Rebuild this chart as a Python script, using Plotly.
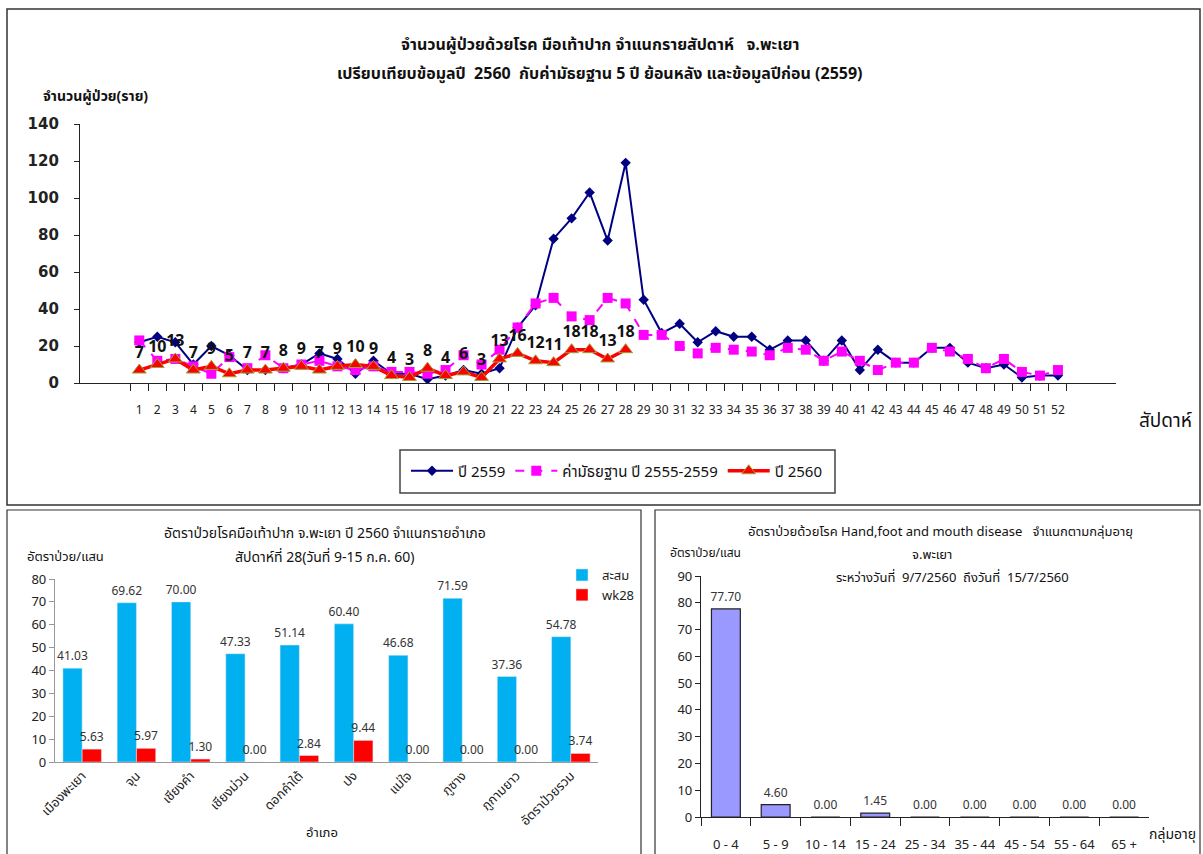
import plotly.graph_objects as go

# ---------------- data ----------------
weeks = [str(i) for i in range(1, 53)]
y2559 = [22, 25, 22, 10, 20, 15, 7, 7, 8, 10, 16, 13, 5, 12, 5, 5, 2, 4, 7, 5, 8, 30,
         42, 78, 89, 103, 77, 119, 45, 27, 32, 22, 28, 25, 25, 18, 23, 23, 12, 23, 7, 18,
         11, 11, 19, 19, 11, 8, 10, 3, 4, 4]
median_5y = [23, 12, 13, 9, 5, 14, 8, 15, 8, 10, 12, 9, 7, 9, 6, 6, 5, 7, 15, 10, 18, 30,
             43, 46, 36, 34, 46, 43, 26, 26, 20, 16, 19, 18, 17, 15, 19, 18, 12, 17, 12, 7,
             11, 11, 19, 17, 13, 8, 13, 6, 4, 7]
y2560 = [7, 10, 13, 7, 9, 5, 7, 7, 8, 9, 7, 9, 10, 9, 4, 3, 8, 4, 6, 3, 13, 16, 12, 11,
         18, 18, 13, 18]

districts = ["เมืองพะเยา", "จุน", "เชียงคำ", "เชียงม่วน", "ดอกคำใต้", "ปง", "แม่ใจ",
             "ภูซาง", "ภูกามยาว", "อัตราป่วยรวม"]
cumulative = [41.03, 69.62, 70.00, 47.33, 51.14, 60.40, 46.68, 71.59, 37.36, 54.78]
wk28 = [5.63, 5.97, 1.30, 0.00, 2.84, 9.44, 0.00, 0.00, 0.00, 3.74]

age_groups = ["0 - 4", "5 - 9", "10 - 14", "15 - 24", "25 - 34", "35 - 44", "45 - 54",
              "55 - 64", "65 +"]
age_rates = [77.70, 4.60, 0.00, 1.45, 0.00, 0.00, 0.00, 0.00, 0.00]

# ---------------- layout helpers ----------------
W, H = 1203, 854
FONT = "Tahoma, 'Noto Sans Thai', 'Noto Sans', 'DejaVu Sans', sans-serif"


def px(x):
    return x / W


def py(y):
    return 1 - y / H


fig = go.Figure()

# ---- top line chart ----
fig.add_trace(go.Scatter(
    x=weeks, y=y2559, name="ปี 2559", mode="lines+markers",
    line=dict(color="#000080", width=2),
    marker=dict(symbol="diamond", size=8, color="#000080"),
    xaxis="x", yaxis="y", legend="legend"))
fig.add_trace(go.Scatter(
    x=weeks, y=median_5y, name="ค่ามัธยฐาน ปี 2555-2559", mode="lines+markers",
    line=dict(color="#FF00FF", width=2, dash="dash"),
    marker=dict(symbol="square", size=10, color="#FF00FF"),
    xaxis="x", yaxis="y", legend="legend"))
fig.add_trace(go.Scatter(
    x=weeks[:len(y2560)], y=y2560, name="ปี 2560", mode="lines+markers+text",
    text=[str(v) for v in y2560], textposition="top center",
    textfont=dict(family=FONT, size=16, color="#111", weight="bold"),
    line=dict(color="#FF0000", width=3.5),
    marker=dict(symbol="triangle-up", size=12, color="#FF0000",
                line=dict(color="#9BA33A", width=1)),
    cliponaxis=False,
    xaxis="x", yaxis="y", legend="legend"))

# ---- bottom-left bars ----
fig.add_trace(go.Bar(
    x=districts, y=cumulative, name="สะสม", marker=dict(color="#00B0F0"),
    text=cumulative, texttemplate="%{y:.2f}", textposition="outside",
    constraintext="none",
    textfont=dict(family=FONT, size=12, color="#333"), cliponaxis=False,
    xaxis="x2", yaxis="y2", legend="legend2"))
fig.add_trace(go.Bar(
    x=districts, y=wk28, name="wk28", marker=dict(color="#FF0000"),
    text=wk28, texttemplate="%{y:.2f}", textposition="outside",
    constraintext="none",
    textfont=dict(family=FONT, size=12, color="#333"), cliponaxis=False,
    xaxis="x2", yaxis="y2", legend="legend2"))

# ---- bottom-right bars ----
fig.add_trace(go.Bar(
    x=age_groups, y=age_rates, name="rate", showlegend=False, width=0.58,
    marker=dict(color="#9999FF", line=dict(color="#222", width=1.2)),
    text=age_rates, texttemplate="%{y:.2f}", textposition="outside",
    constraintext="none",
    textfont=dict(family=FONT, size=12, color="#333"), cliponaxis=False,
    xaxis="x3", yaxis="y3"))

axis_common = dict(showline=True, linecolor="#222", linewidth=1.2, ticks="outside",
                   tickcolor="#222", showgrid=False, zeroline=False, automargin=False)

fig.update_layout(
    width=W, height=H,
    margin=dict(l=0, r=0, t=0, b=0, autoexpand=False),
    paper_bgcolor="white", plot_bgcolor="white",
    font=dict(family=FONT, color="#222"),
    barmode="group",
    xaxis=dict(domain=[px(80), px(1116)], anchor="y", type="category",
               tickson="boundaries", ticklen=7, ticklabelstandoff=15, tickangle=0,
               tickfont=dict(size=12, family=FONT), **axis_common),
    yaxis=dict(domain=[py(383), py(124)], anchor="x", range=[0, 140], dtick=20,
               ticklen=5, ticklabelstandoff=12,
               tickfont=dict(size=15, family="Tahoma, 'DejaVu Sans', sans-serif",
                             weight="bold"), **axis_common),
    xaxis2=dict(domain=[px(55), px(598)], anchor="y2", type="category",
                tickangle=-45, ticks="", tickfont=dict(size=13, family=FONT),
                showline=True, linecolor="#999", linewidth=1.2, showgrid=False,
                zeroline=False, automargin=False),
    yaxis2=dict(domain=[py(762), py(579)], anchor="x2", range=[0, 80], dtick=10,
                ticklen=5, tickfont=dict(size=13, family=FONT),
                showline=True, linecolor="#999", linewidth=1.2, ticks="outside",
                tickcolor="#999", showgrid=False, zeroline=False, automargin=False),
    xaxis3=dict(domain=[px(701), px(1149)], anchor="y3", type="category",
                tickson="boundaries", ticklen=8, ticklabelstandoff=15, tickangle=0,
                tickfont=dict(size=13, family=FONT), **axis_common),
    yaxis3=dict(domain=[py(817), py(576)], anchor="x3", range=[0, 90], dtick=10,
                ticklen=5, tickfont=dict(size=13, family=FONT), **axis_common),
    bargap=0.29, bargroupgap=0.0,
    legend=dict(orientation="h", x=px(617), y=py(471), xanchor="center", yanchor="middle",
                borderwidth=0, bgcolor="rgba(0,0,0,0)", itemwidth=42,
                font=dict(size=15, family=FONT, color="#111")),
    legend2=dict(orientation="v", x=px(562), y=py(560), xanchor="left", yanchor="top",
                 font=dict(size=13, family=FONT), tracegroupgap=10, itemwidth=30,
                 bgcolor="rgba(0,0,0,0)"),
)

# ---- annotations ----
ann = [
    dict(x=600, y=45, text="<b>จำนวนผู้ป่วยด้วยโรค มือเท้าปาก จำแนกรายสัปดาห์   จ.พะเยา</b>", size=16),
    dict(x=600, y=74, text="<b>เปรียบเทียบข้อมูลปี  2560  กับค่ามัธยฐาน 5 ปี ย้อนหลัง และข้อมูลปีก่อน (2559)</b>", size=16),
    dict(x=95, y=96, text="<b>จำนวนผู้ป่วย(ราย)</b>", size=14),
    dict(x=1165, y=421, text="สัปดาห์", size=19),
    dict(x=325, y=533, text="อัตราป่วยโรคมือเท้าปาก จ.พะเยา ปี 2560 จำแนกรายอำเภอ", size=14),
    dict(x=325, y=557, text="สัปดาห์ที่ 28(วันที่ 9-15 ก.ค. 60)", size=14),
    dict(x=65, y=557, text="อัตราป่วย/แสน", size=13),
    dict(x=322, y=833, text="อำเภอ", size=13),
    dict(x=940, y=532, text="อัตราป่วยด้วยโรค Hand,foot and mouth disease   จำแนกตามกลุ่มอายุ", size=13),
    dict(x=932, y=555, text="จ.พะเยา", size=13),
    dict(x=952, y=578, text="ระหว่างวันที่  9/7/2560  ถึงวันที่  15/7/2560", size=13),
    dict(x=705, y=553, text="อัตราป่วย/แสน", size=12),
    dict(x=1172, y=834, text="กลุ่มอายุ", size=14),
]
fig.update_layout(annotations=[
    dict(xref="paper", yref="paper", x=px(a["x"]), y=py(a["y"]), text=a["text"],
         showarrow=False, xanchor="center", yanchor="middle",
         font=dict(size=a["size"], family=FONT, color="#111"))
    for a in ann
])

# ---- panel borders and legend box ----
fig.update_layout(shapes=[
    dict(type="rect", xref="paper", yref="paper", x0=px(7), x1=px(1200), y0=py(505), y1=py(9),
         line=dict(color="#333", width=1.5)),
    dict(type="rect", xref="paper", yref="paper", x0=px(7), x1=px(641), y0=py(856), y1=py(510),
         line=dict(color="#333", width=1.2)),
    dict(type="rect", xref="paper", yref="paper", x0=px(655), x1=px(1200), y0=py(856), y1=py(510),
         line=dict(color="#333", width=1.2)),
    dict(type="rect", xref="paper", yref="paper", x0=px(400), x1=px(835), y0=py(493), y1=py(450),
         line=dict(color="#444", width=1.5)),
])

fig.write_html("out.html", config={"displayModeBar": False},
               post_script="document.body.style.margin='0';document.body.style.overflow='hidden';")
